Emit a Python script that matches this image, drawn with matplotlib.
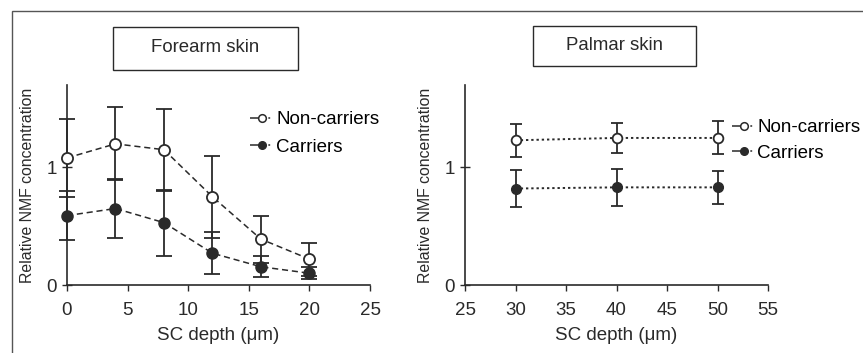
import matplotlib
matplotlib.use('Agg')
import matplotlib.pyplot as plt
from matplotlib.patches import Rectangle
from matplotlib.lines import Line2D

plt.rcParams['font.family'] = ['Liberation Sans', 'DejaVu Sans']

# ── data ─────────────────────────────────────────────────────────────────────
forearm_depth = [0, 4, 8, 12, 16, 20]
forearm_non = [1.08, 1.20, 1.15, 0.75, 0.39, 0.22]
forearm_non_err = [0.33, 0.31, 0.35, 0.35, 0.20, 0.14]
forearm_car = [0.59, 0.65, 0.53, 0.27, 0.155, 0.10]
forearm_car_err = [0.21, 0.25, 0.28, 0.18, 0.09, 0.05]

palmar_depth = [30, 40, 50]
palmar_non = [1.23, 1.25, 1.25]
palmar_non_err = [0.14, 0.13, 0.14]
palmar_car = [0.82, 0.83, 0.83]
palmar_car_err = [0.16, 0.16, 0.14]

ink = '#2a2a2a'
FS = 13.5

fig = plt.figure(figsize=(8.63, 3.53), dpi=100)
fig.patch.set_facecolor('white')

# outer frame of the figure panel
fig.patches.append(Rectangle((12 / 863, -0.1), 1.2, 1 - 11 / 353 + 0.1,
                             transform=fig.transFigure, fill=False,
                             edgecolor='#555555', linewidth=1.0))

ax1 = fig.add_axes([67 / 863, 1 - 285 / 353, 303 / 863, 200 / 353])
ax2 = fig.add_axes([465 / 863, 1 - 285 / 353, 303 / 863, 200 / 353])


def style_axis(ax, xlim, xticks):
    ax.set_xlim(*xlim)
    ax.set_ylim(0, 1.7)
    ax.set_xticks(xticks)
    ax.set_yticks([0, 1])
    for s in ('top', 'right'):
        ax.spines[s].set_visible(False)
    for s in ('left', 'bottom'):
        ax.spines[s].set_color(ink)
        ax.spines[s].set_linewidth(1.2)
    ax.tick_params(axis='x', direction='out', length=4, width=1.0, pad=8,
                   colors=ink, labelsize=FS)
    ax.tick_params(axis='y', direction='inout', length=7, width=1.0, pad=4,
                   colors=ink, labelsize=FS)
    ax.set_xlabel(u'SC depth (\u03bcm)', fontsize=FS, color=ink, labelpad=6)
    ax.set_ylabel('Relative NMF concentration', fontsize=11.4, color=ink,
                  labelpad=8)
    ax.patch.set_alpha(0)


def legend_handles():
    dash = (0, (6, 6, 1.2, 30))
    h_non = Line2D([], [], color=ink, linestyle=dash, linewidth=1.1,
                   marker='o', markersize=5.5, markerfacecolor='white',
                   markeredgecolor=ink, markeredgewidth=1.1)
    h_car = Line2D([], [], color=ink, linestyle=dash, linewidth=1.1,
                   marker='o', markersize=5.5, markerfacecolor=ink,
                   markeredgecolor=ink)
    return [h_non, h_car], ['Non-carriers', 'Carriers']


# ── Forearm ──────────────────────────────────────────────────────────────────
ax1.errorbar(forearm_depth, forearm_non, yerr=forearm_non_err, color=ink,
             linestyle=(0, (4, 2.5)), linewidth=1.1, marker='o', markersize=8,
             markerfacecolor='white', markeredgecolor=ink, markeredgewidth=1.3,
             ecolor=ink, elinewidth=1.3, capsize=6, capthick=1.3,
             zorder=3, clip_on=False)
ax1.errorbar(forearm_depth, forearm_car, yerr=forearm_car_err, color=ink,
             linestyle=(0, (4, 2.5)), linewidth=1.1, marker='o', markersize=8,
             markerfacecolor=ink, markeredgecolor=ink,
             ecolor=ink, elinewidth=1.3, capsize=6, capthick=1.3,
             zorder=3, clip_on=False)
style_axis(ax1, (0, 25), [0, 5, 10, 15, 20, 25])
h, l = legend_handles()
ax1.legend(h, l, loc='upper left', bbox_to_anchor=((250 - 67) / 303, 0.87),
           frameon=False, fontsize=FS, handlelength=1.25, handletextpad=0.15,
           labelspacing=0.55, borderpad=0, borderaxespad=0)
fig.text(205 / 863, 1 - 48 / 353, 'Forearm skin', ha='center', va='center',
         fontsize=13.4, color=ink)
fig.patches.append(Rectangle((113 / 863, 1 - 70 / 353), 185 / 863, 43 / 353,
                             transform=fig.transFigure, fill=False,
                             edgecolor=ink, linewidth=1.0))

# ── Palmar ───────────────────────────────────────────────────────────────────
ax2.errorbar(palmar_depth, palmar_non, yerr=palmar_non_err, color=ink,
             linestyle=(0, (1.2, 1.5)), linewidth=1.4, marker='o',
             markersize=7, markerfacecolor='white', markeredgecolor=ink,
             markeredgewidth=1.3, ecolor=ink, elinewidth=1.3, capsize=4,
             capthick=1.3, zorder=3)
ax2.errorbar(palmar_depth, palmar_car, yerr=palmar_car_err, color=ink,
             linestyle=(0, (1.2, 1.5)), linewidth=1.4, marker='o',
             markersize=7, markerfacecolor=ink, markeredgecolor=ink,
             ecolor=ink, elinewidth=1.3, capsize=4, capthick=1.3,
             zorder=3)
style_axis(ax2, (25, 55), [25, 30, 35, 40, 45, 50, 55])
h, l = legend_handles()
ax2.legend(h, l, loc='upper left', bbox_to_anchor=((732 - 465) / 303, 0.83),
           frameon=False, fontsize=FS, handlelength=1.25, handletextpad=0.1,
           labelspacing=0.45, borderpad=0, borderaxespad=0)
fig.text(614 / 863, 1 - 46 / 353, 'Palmar skin', ha='center', va='center',
         fontsize=13.4, color=ink)
fig.patches.append(Rectangle((533 / 863, 1 - 66 / 353), 163 / 863, 40 / 353,
                             transform=fig.transFigure, fill=False,
                             edgecolor=ink, linewidth=1.0))

fig.savefig('out.png', dpi=100, facecolor='white')
